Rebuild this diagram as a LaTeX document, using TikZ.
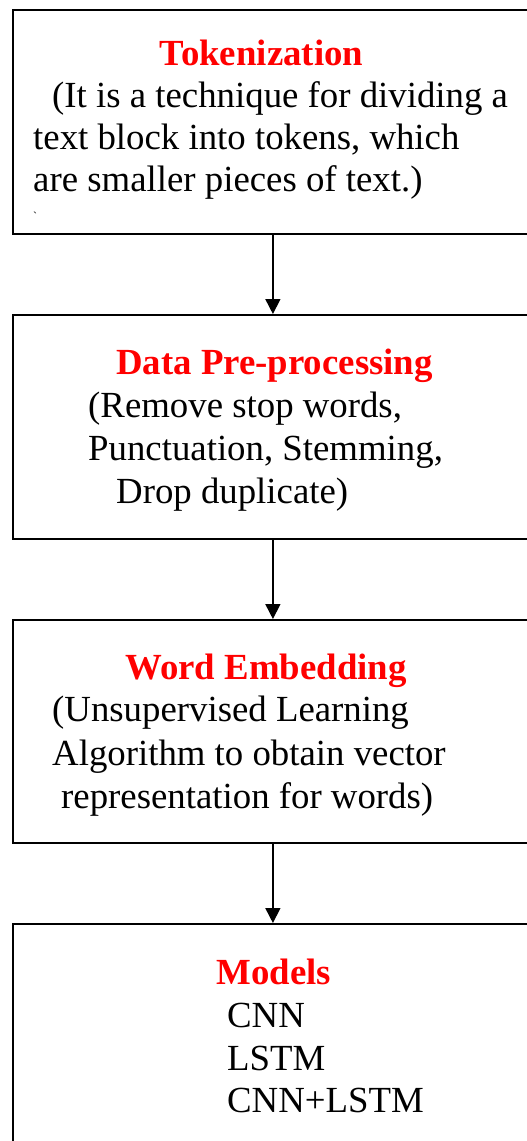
\documentclass[tikz,border=0pt]{standalone}
\usepackage{fontspec}
\setmainfont{Liberation Serif}
\usetikzlibrary{arrows.meta}
\begin{document}
\begin{tikzpicture}[x=1pt, y=-1pt,
  stage/.style={draw=black, line width=1.8pt, anchor=north west, inner sep=0pt,
    minimum width=520pt},
  flow/.style={draw=black, line width=1.6pt, -{Triangle[width=15pt,length=15pt]}},
  title/.style={anchor=base, inner sep=0pt, text=red,
    font=\fontsize{36.8}{42}\selectfont\bfseries},
  body/.style={anchor=base west, inner sep=0pt, text=black,
    font=\fontsize{36.8}{42}\selectfont}]
\useasboundingbox (0,0) rectangle (527,1141);
\clip (0,0) rectangle (527,1141);

% stage boxes
\node[stage, minimum height=224pt] (b1) at (12,9) {};
\node[stage, minimum height=224pt] (b2) at (12,314) {};
\node[stage, minimum height=223pt] (b3) at (12,619) {};
\node[stage, minimum height=240pt] (b4) at (12,923) {};

% connectors
\draw[flow] (b1.south) -- (b2.north);
\draw[flow] (b2.south) -- (b3.north);
\draw[flow] (b3.south) -- (b4.north);

% Tokenization
\node[title] (t1) at (261.5,65) {Tokenization};
\node[body] (t1a) at (52,107) {(It is a technique for dividing a};
\node[body] (t1b) at (33,149) {text block into tokens, which};
\node[body] (t1c) at (33,191) {are smaller pieces of text.)};
\node[body, font=\fontsize{12}{14}\selectfont] (t1d) at (33,220) {\textasciigrave};

% Data pre-processing
\node[title] (t2) at (274.5,374) {Data Pre-processing};
\node[body] (t2a) at (88,417) {(Remove stop words,};
\node[body] (t2b) at (88,460) {Punctuation, Stemming,};
\node[body] (t2c) at (116,503) {Drop duplicate)};

% Word embedding
\node[title] (t3) at (266,679) {Word Embedding};
\node[body] (t3a) at (52,721) {(Unsupervised Learning};
\node[body] (t3b) at (52,765) {Algorithm to obtain vector};
\node[body] (t3c) at (61,808) {representation for words)};

% Models
\node[title] (t4) at (274,984) {Models};
\node[body] (t4a) at (227,1027) {CNN};
\node[body] (t4b) at (227,1070) {LSTM};
\node[body] (t4c) at (227,1112) {CNN+LSTM};
\end{tikzpicture}
\end{document}
